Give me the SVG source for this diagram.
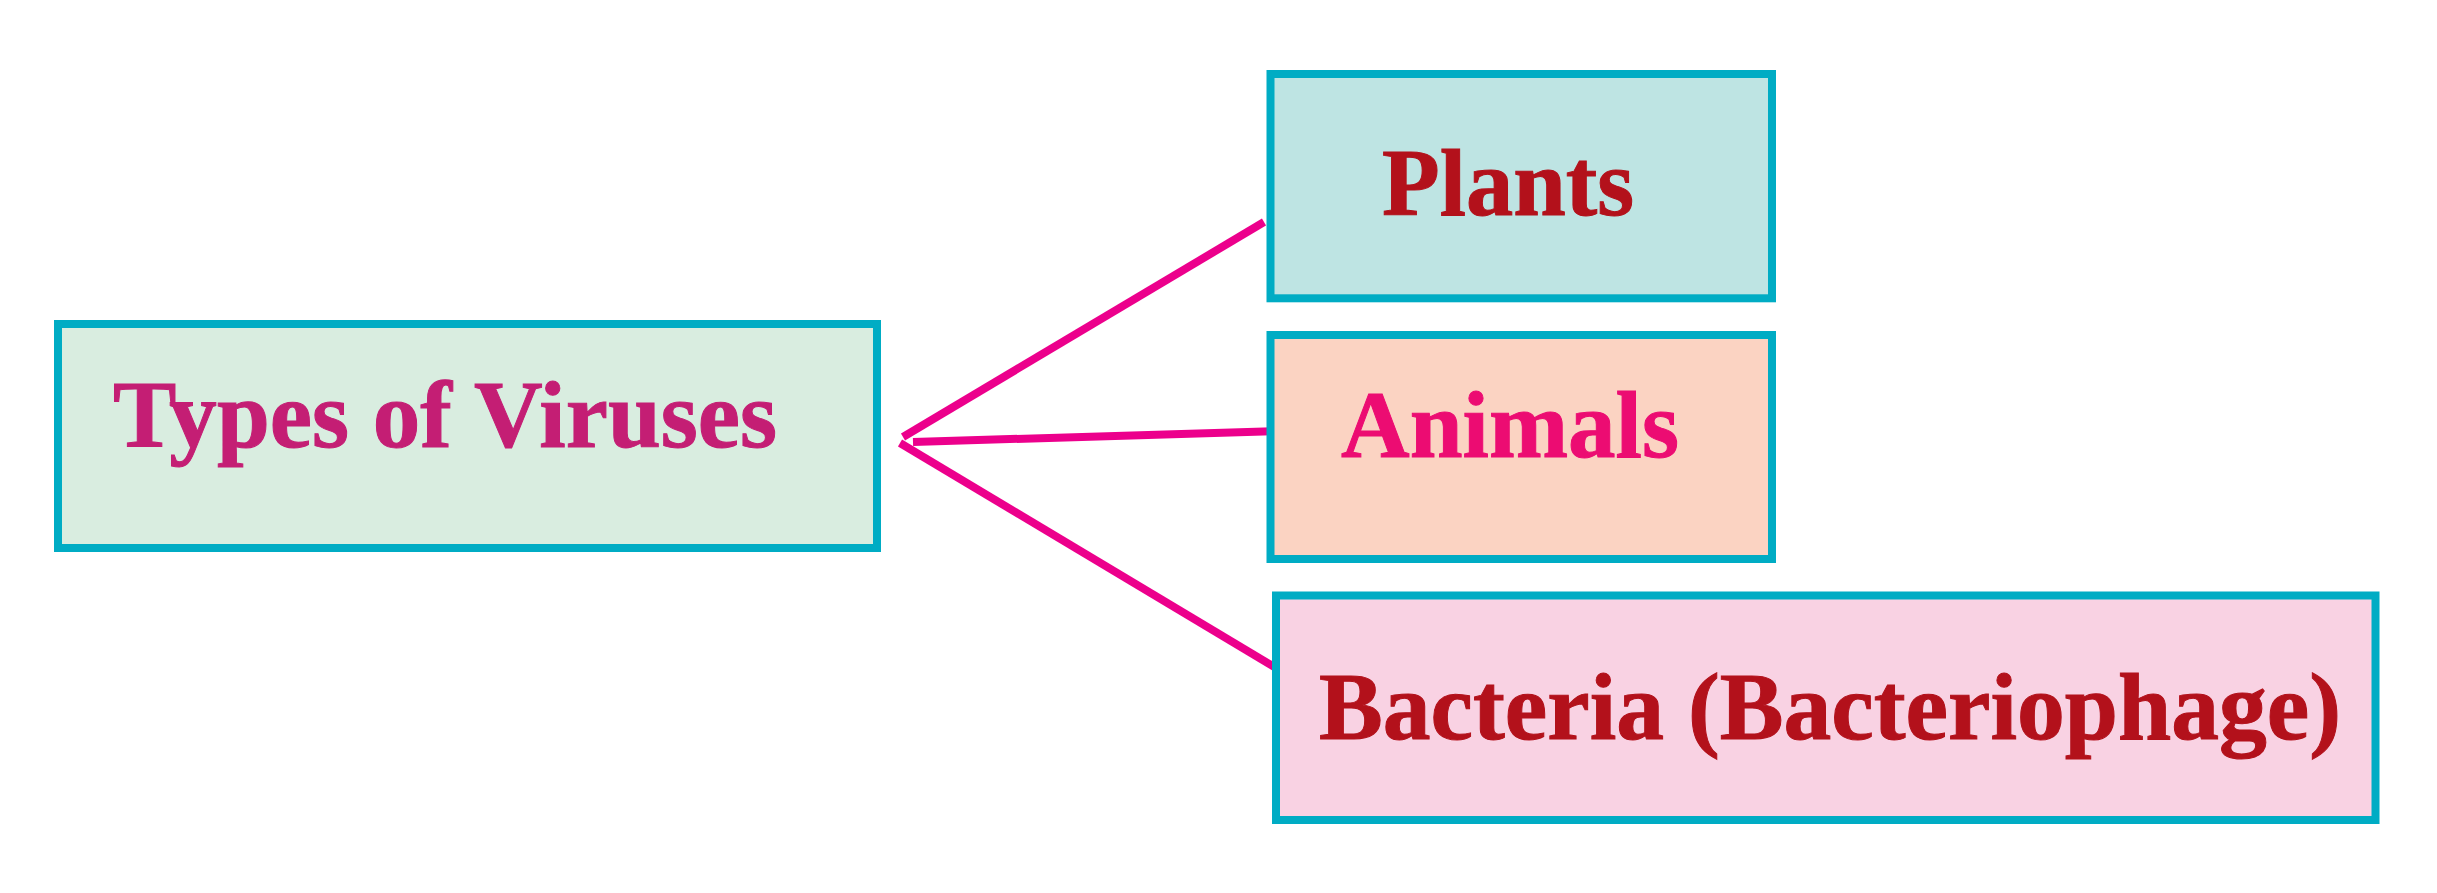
<svg xmlns="http://www.w3.org/2000/svg" width="2437" height="893" viewBox="0 0 2437 893">
<style>
.box{stroke:#00ACC4;stroke-width:8}
.lbl{font-family:"Liberation Serif","Times New Roman",serif;font-weight:bold;font-size:96px;stroke-width:1;paint-order:stroke}
.conn{stroke:#EC008C;stroke-width:8;fill:none}
</style>
<rect width="2437" height="893" fill="#FFFFFF"/>
<g id="connectors">
<line class="conn" x1="903" y1="437" x2="1264" y2="222"/>
<line class="conn" x1="913" y1="442" x2="1280" y2="431"/>
<line class="conn" x1="900" y1="443" x2="1276" y2="668"/>
</g>
<g id="types">
<rect class="box" x="58" y="324" width="819" height="224" fill="#D9EDE0"/>
<text class="lbl" x="113" y="447" fill="#C41E74" stroke="#C41E74" textLength="664" lengthAdjust="spacingAndGlyphs">Types of Viruses</text>
</g>
<g id="plants">
<rect class="box" x="1270.5" y="74" width="501.5" height="224.3" fill="#BEE4E3"/>
<text class="lbl" x="1382" y="215" fill="#B3111B" stroke="#B3111B" textLength="252" lengthAdjust="spacingAndGlyphs">Plants</text>
</g>
<g id="animals">
<rect class="box" x="1270.5" y="335" width="501.5" height="224" fill="#FBD3C2"/>
<text class="lbl" x="1341" y="457" fill="#EC0C72" stroke="#EC0C72" textLength="338" lengthAdjust="spacingAndGlyphs">Animals</text>
</g>
<g id="bacteria">
<rect class="box" x="1276" y="595.5" width="1099.5" height="224.5" fill="#F9D2E3"/>
<text class="lbl" x="1319" y="739" fill="#B3111B" stroke="#B3111B" textLength="1022" lengthAdjust="spacingAndGlyphs">Bacteria (Bacteriophage)</text>
</g>
</svg>
